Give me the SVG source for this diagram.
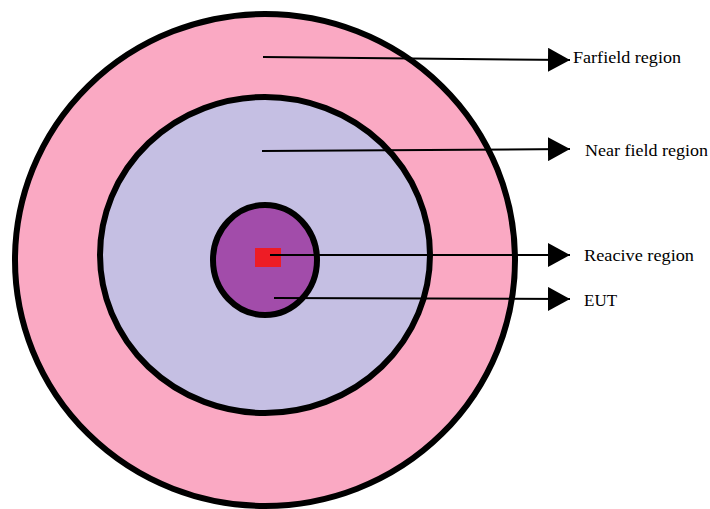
<svg xmlns="http://www.w3.org/2000/svg" width="710" height="509" viewBox="0 0 710 509">
<defs>
<style>
.ring{stroke:#000;stroke-width:6}
.lead{stroke:#000;stroke-width:2;fill:none;marker-end:url(#ah)}
.lbl{font-family:"Liberation Serif","Times New Roman",serif;font-size:17px;fill:#000}
</style>
<marker id="ah" markerUnits="userSpaceOnUse" markerWidth="24" markerHeight="24" refX="22" refY="12" orient="auto">
<path d="M0,0 L22,12 L0,24 Z" fill="#000"/>
</marker>
</defs>
<rect width="710" height="509" fill="#fff"/>
<g id="farfield"><ellipse class="ring" cx="265" cy="260" rx="250" ry="246" fill="#FAA9C3"/></g>
<g id="nearfield"><ellipse class="ring" cx="265" cy="255" rx="165" ry="158" fill="#C5BFE3"/></g>
<g id="eut"><ellipse class="ring" cx="265" cy="260" rx="52" ry="55" fill="#A24CAA"/></g>
<g id="reactive"><rect x="255" y="248" width="26" height="19" fill="#EE1C25"/></g>
<g id="connectors">
<path class="lead" d="M263,57 L570,60"/>
<path class="lead" d="M262,151 L570,149"/>
<path class="lead" d="M270,255 L570,255"/>
<path class="lead" d="M274,298 L570,299"/>
</g>
<g id="labels">
<text class="lbl" x="573" y="63" textLength="108" lengthAdjust="spacingAndGlyphs">Farfield region</text>
<text class="lbl" x="585" y="156" textLength="123" lengthAdjust="spacingAndGlyphs">Near field region</text>
<text class="lbl" x="584" y="261" textLength="110" lengthAdjust="spacingAndGlyphs">Reacive region</text>
<text class="lbl" x="584" y="306">EUT</text>
</g>
</svg>
